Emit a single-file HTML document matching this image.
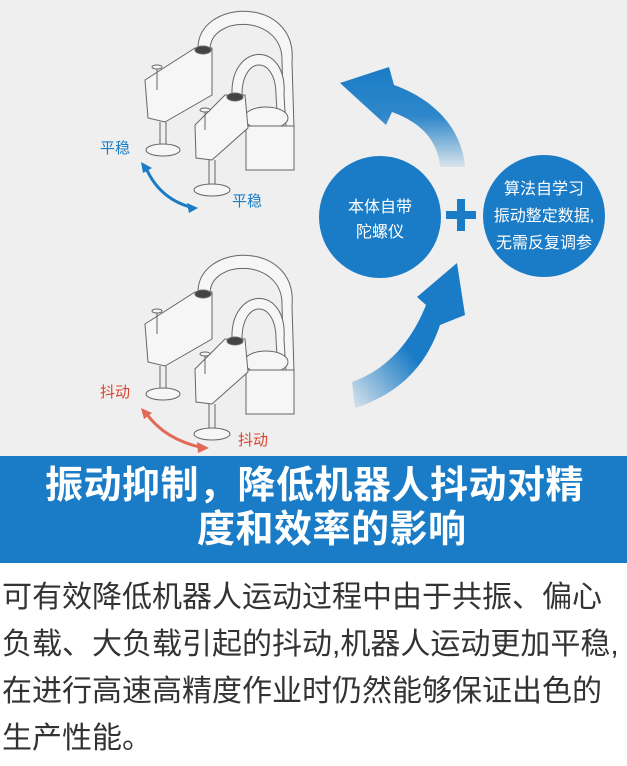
<!DOCTYPE html>
<html><head><meta charset="utf-8"><style>
html,body{margin:0;padding:0;}
body{width:627px;height:766px;position:relative;background:#fff;font-family:"Liberation Sans","Noto Sans CJK SC",sans-serif;overflow:hidden;}
.top{position:absolute;left:0;top:0;width:627px;height:456px;background:#efefef;}
.banner{position:absolute;left:0;top:456px;width:627px;height:107px;background:#1a7cc6;color:#fff;font-weight:bold;font-size:38px;letter-spacing:0.5px;line-height:44px;}
.body{position:absolute;left:2px;top:574px;width:627px;font-size:30px;line-height:47px;color:#333;white-space:nowrap;}
.lbl{position:absolute;font-size:15px;}
</style></head><body>
<div class="top"></div>
<svg style="position:absolute;left:0;top:0" width="627" height="456">
<defs>
<linearGradient id="g1" x1="0" y1="1" x2="0" y2="0"><stop offset="0" stop-color="#1a7cc6" stop-opacity="0.1"/><stop offset="0.5" stop-color="#1a7cc6" stop-opacity="0.9"/><stop offset="1" stop-color="#1a7cc6"/></linearGradient>
<linearGradient id="g2" x1="0" y1="1" x2="1" y2="0"><stop offset="0" stop-color="#1a7cc6" stop-opacity="0.1"/><stop offset="0.45" stop-color="#1a7cc6"/><stop offset="1" stop-color="#1a7cc6"/></linearGradient>
<g id="robot" fill="#f6f6f6" stroke="#666" stroke-width="1">
<path d="M198,50 C196,-2 298,-5 292,62 L294,128 L284,128 L282,62 C284,14 210,14 210,50Z"/>
<path d="M232,95 C230,42 288,40 284,95 L286,128 L278,128 L276,95 C276,55 242,55 242,95Z"/>
<ellipse cx="266" cy="118" rx="22" ry="11"/>
<rect x="246" y="126" width="48" height="44"/>
<path d="M145,80 L195,48 L212,48 L212,95 L165,122 L148,118 Z"/>
<ellipse cx="203" cy="50" rx="8" ry="4" fill="#444"/>
<line x1="157" y1="68" x2="157" y2="90"/><ellipse cx="157" cy="67" rx="5" ry="2"/>
<line x1="160" y1="122" x2="160" y2="145"/><line x1="166" y1="122" x2="166" y2="145"/>
<ellipse cx="163" cy="150" rx="17" ry="6"/>
<path d="M195,125 L225,95 L245,95 L248,128 L212,160 L196,158 Z"/>
<ellipse cx="235" cy="97" rx="8" ry="4" fill="#444"/>
<line x1="205" y1="110" x2="205" y2="130"/><ellipse cx="205" cy="110" rx="5" ry="2"/>
<line x1="209" y1="160" x2="209" y2="185"/><line x1="215" y1="160" x2="215" y2="185"/>
<ellipse cx="212" cy="190" rx="18" ry="6"/>
</g>
</defs>
<use href="#robot"/>
<use href="#robot" transform="translate(0,244)"/>
<path d="M146,168 Q160,200 194,208" fill="none" stroke="#1a7cc6" stroke-width="3"/>
<path d="M141,162 L152,168 L143,173Z" fill="#1a7cc6"/><path d="M198,208 L187,203 L189,213Z" fill="#1a7cc6"/>
<path d="M146,413 Q165,440 204,448" fill="none" stroke="#e06a55" stroke-width="3"/>
<path d="M141,408 L152,413 L144,419Z" fill="#e06a55"/><path d="M209,448 L197,442 L198,453Z" fill="#e06a55"/>
<path d="M440,167 C438,140 420,122 392,112 L386,125 L340,83 L389,67 L394,85 C436,100 462,130 465,167Z" fill="url(#g1)"/>
<path d="M355,408 C395,395 425,370 440,325 L465,315 L457,263 L417,297 L426,305 C410,345 385,370 352,382Z" fill="url(#g2)"/>
<circle cx="380" cy="217" r="61" fill="#1a7cc6"/>
<circle cx="544" cy="216" r="61" fill="#1a7cc6"/>
<rect x="446" y="211" width="30" height="8" fill="#1a7cc6"/><rect x="457" y="199" width="8" height="32" fill="#1a7cc6"/>
</svg>
<div class="lbl" style="left:100px;top:137px;color:#1a7cc6">平稳</div>
<div class="lbl" style="left:232px;top:190px;color:#1a7cc6">平稳</div>
<div class="lbl" style="left:100px;top:381px;color:#d9442e">抖动</div>
<div class="lbl" style="left:238px;top:429px;color:#d9442e">抖动</div>
<div style="position:absolute;left:319px;top:195px;width:122px;text-align:center;color:#fff;font-size:16px;line-height:25px">本体自带<br>陀螺仪</div>
<div style="position:absolute;left:481px;top:176px;width:126px;text-align:center;color:#fff;font-size:16px;line-height:27px">算法自学习<br>振动整定数据,<br>无需反复调参</div>
<div class="banner"><div style="position:absolute;left:45px;top:8px;white-space:nowrap">振动抑制，降低机器人抖动对精</div><div style="position:absolute;left:197px;top:52px;white-space:nowrap">度和效率的影响</div></div>
<div class="body">可有效降低机器人运动过程中由于共振、偏心<br>负载、大负载引起的抖动,机器人运动更加平稳,<br>在进行高速高精度作业时仍然能够保证出色的<br>生产性能。</div>
</body></html>
